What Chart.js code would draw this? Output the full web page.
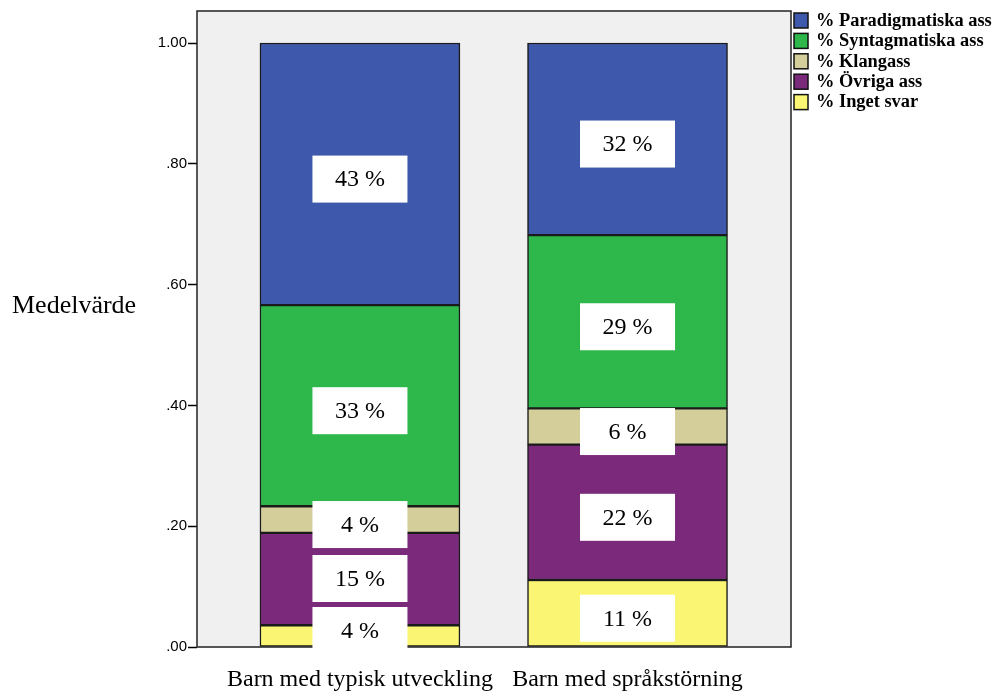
<!DOCTYPE html>
<html>
<head>
<meta charset="utf-8">
<script src="https://cdn.jsdelivr.net/npm/chart.js@4"></script>
<style>
  html, body { margin: 0; padding: 0; background: #ffffff; }
  #wrap { width: 994px; height: 693px; }
</style>
</head>
<body>
<div id="wrap"><canvas id="chart" width="994" height="693"></canvas></div>
<script>
// Groups along the x axis
const categories = ['Barn med typisk utveckling', 'Barn med språkstörning'];

// Mean share of each answer type per group (stacked bottom to top)
const ingetSvar       = [0.036, 0.111];
const ovrigaAss       = [0.153, 0.224];
const klangass        = [0.044, 0.060];
const syntagmatiska   = [0.333, 0.287];
const paradigmatiska  = [0.434, 0.318];

// Y axis tick values
const yTicks = [0, 0.2, 0.4, 0.6, 0.8, 1.0];

const seriesNames = ['% Inget svar', '% Övriga ass', '% Klangass', '% Syntagmatiska ass', '% Paradigmatiska ass'];
const seriesValues = [ingetSvar, ovrigaAss, klangass, syntagmatiska, paradigmatiska];
const seriesColors = ['#FAF673', '#7B2A7B', '#D4CF9A', '#2EB84B', '#3E58AC'];

const SERIF = "'Liberation Serif', 'Times New Roman', serif";
const SANS = "'Liberation Sans', Arial, sans-serif";

const datasets = seriesNames.map((name, i) => ({
  label: name,
  data: seriesValues[i].map((v, j) => ({ x: j, y: v })),
  backgroundColor: seriesColors[i],
  borderColor: '#1a1a1a',
  borderWidth: 1.5,
  borderSkipped: false,
  barThickness: 200
}));

// Grey plot background with a dark frame
const frame = {
  id: 'frame',
  beforeDatasetsDraw(chart) {
    const { ctx, chartArea: a } = chart;
    ctx.save();
    ctx.fillStyle = '#F0F0F0';
    ctx.fillRect(a.left, a.top, a.right - a.left, a.bottom - a.top);
    ctx.restore();
  },
  afterDatasetsDraw(chart) {
    const { ctx, chartArea: a } = chart;
    ctx.save();
    ctx.strokeStyle = '#222';
    ctx.lineWidth = 1.5;
    ctx.strokeRect(a.left, a.top, a.right - a.left, a.bottom - a.top);
    ctx.restore();
  }
};

// White boxes with rounded percentages, stacked so they never overlap
const segmentLabels = {
  id: 'segmentLabels',
  afterDatasetsDraw(chart) {
    const { ctx, chartArea: a } = chart;
    const boxW = 95, boxH = 47, gap = 5;
    ctx.save();
    ctx.font = '24px ' + SERIF;
    ctx.textAlign = 'center';
    ctx.textBaseline = 'middle';
    categories.forEach((c, j) => {
      let ceiling = a.bottom + 7; // lowest allowed box bottom
      chart.data.datasets.forEach((ds, i) => {
        const el = chart.getDatasetMeta(i).data[j];
        let cy = (el.y + el.base) / 2 + 5;
        if (cy + boxH / 2 > ceiling) cy = ceiling - boxH / 2;
        ceiling = cy - boxH / 2 - gap;
        ctx.fillStyle = '#ffffff';
        ctx.fillRect(el.x - boxW / 2, cy - boxH / 2, boxW, boxH);
        ctx.fillStyle = '#000000';
        ctx.fillText(Math.round(ds.data[j].y * 100) + ' %', el.x, cy + 1);
      });
    });
    ctx.restore();
  }
};

// Horizontal axis title and the legend on the right
const decorations = {
  id: 'decorations',
  afterDraw(chart) {
    const { ctx, chartArea: a } = chart;
    ctx.save();
    ctx.fillStyle = '#000';
    ctx.font = '26px ' + SERIF;
    ctx.textAlign = 'left';
    ctx.textBaseline = 'alphabetic';
    ctx.fillText('Medelvärde', 12, 313);

    const n = chart.data.datasets.length;
    ctx.font = 'bold 18.4px ' + SERIF;
    ctx.textBaseline = 'middle';
    for (let k = 0; k < n; k++) {
      const ds = chart.data.datasets[n - 1 - k];
      const top = 13 + k * 20.4;
      ctx.fillStyle = ds.backgroundColor;
      ctx.fillRect(a.right + 3, top, 14, 15);
      ctx.strokeStyle = '#111';
      ctx.lineWidth = 1.5;
      ctx.strokeRect(a.right + 3, top, 14, 15);
      ctx.fillStyle = '#000';
      ctx.fillText(ds.label, a.right + 25, top + 8);
    }
    ctx.restore();
  }
};

new Chart(document.getElementById('chart'), {
  type: 'bar',
  data: { datasets },
  options: {
    responsive: false,
    animation: false,
    events: [],
    layout: { padding: { top: 11, right: 203, left: 0, bottom: 0 } },
    plugins: { legend: { display: false }, tooltip: { enabled: false } },
    scales: {
      x: {
        type: 'linear',
        stacked: true,
        offset: false,
        min: -0.609,
        max: 1.611,
        afterBuildTicks(scale) { scale.ticks = categories.map((c, i) => ({ value: i })); },
        afterFit(scale) { scale.height = 46; },
        grid: { display: false, offset: false },
        border: { display: false },
        ticks: {
          color: '#000',
          font: { family: SERIF, size: 24 },
          padding: 10,
          maxRotation: 0,
          autoSkip: false,
          callback: (v) => categories[v]
        }
      },
      y: {
        stacked: true,
        min: 0,
        max: 1.053,
        afterBuildTicks(scale) { scale.ticks = yTicks.map(v => ({ value: v })); },
        afterFit(scale) { scale.width = 197; },
        grid: {
          drawOnChartArea: false,
          drawTicks: true,
          tickLength: 9,
          tickColor: '#000',
          tickWidth: 1.5
        },
        border: { display: false },
        ticks: {
          color: '#000',
          font: { family: SANS, size: 15 },
          padding: 1,
          callback: (v) => v.toFixed(2).replace(/^0/, '')
        }
      }
    }
  },
  plugins: [frame, segmentLabels, decorations]
});
</script>
</body>
</html>
